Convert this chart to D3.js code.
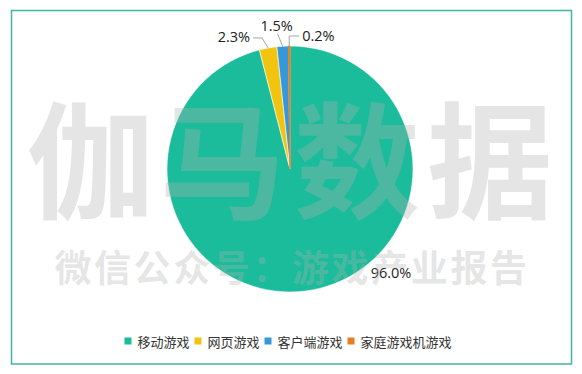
<!DOCTYPE html>
<html>
<head>
<meta charset="utf-8">
<script src="https://cdn.jsdelivr.net/npm/d3@7"></script>
<style>
	html, body { margin: 0; padding: 0; background: #fff; }
	svg { display: block; }
</style>
</head>
<body>
<svg id="chart" width="582" height="374"></svg>
<script>
// data
var categorias = ["移动游戏", "网页游戏", "客户端游戏", "家庭游戏机游戏"];
var porcentajes = [96.0, 2.3, 1.5, 0.2];
var colores = ["#1bbc9b", "#f1c40f", "#3498db", "#e67e22"];

var marca1 = ["伽", "马", "数", "据"];
var marca2 = "微信公众号：游戏产业报告";

(function () {
	var svg = d3.select("#chart");
	var cx = 290, cy = 169, r = 123;

	// marco
	svg.append("rect")
		.attr("x", 11.5).attr("y", 10.5)
		.attr("width", 560).attr("height", 353.5)
		.attr("fill", "#fff")
		.attr("stroke", "#3fb5a3")
		.attr("stroke-width", 1.5);

	var datos = categorias.map(function (c, i) {
		return { nombre: c, valor: porcentajes[i], color: colores[i] };
	});

	var pie = d3.pie().value(d => d.valor).sort(null);
	var arcos = pie(datos);
	var arc = d3.arc().innerRadius(0).outerRadius(r);

	var g = svg.append("g").attr("transform", "translate(" + cx + "," + cy + ")");

	// los sectores muy finos llevan borde de su color para que se vean
	g.selectAll("path.slice").data(arcos).enter().append("path")
		.attr("class", "slice")
		.attr("d", arc)
		.attr("fill", d => d.data.color)
		.attr("stroke", d => d.data.valor < 1 ? d.data.color : "#fff")
		.attr("stroke-width", d => d.data.valor < 1 ? 1 : 0.6);

	// marca de agua encima del pie
	var wm = svg.append("g").attr("fill", "#b0b0b0").attr("fill-opacity", 0.33)
		.style("font-family", "'Noto Sans CJK SC', sans-serif");
	var centros = [90, 222, 357, 490];
	wm.selectAll("text.m1").data(marca1).enter().append("text")
		.attr("class", "m1")
		.attr("x", (d, i) => centros[i])
		.attr("y", 154)
		.attr("text-anchor", "middle")
		.attr("dominant-baseline", "central")
		.style("font-size", "126px")
		.style("font-weight", 700)
		.text(d => d);
	wm.append("text")
		.attr("x", 292).attr("y", 266)
		.attr("text-anchor", "middle")
		.attr("dominant-baseline", "central")
		.style("font-size", "37px")
		.style("font-weight", 700)
		.style("letter-spacing", "2.6px")
		.text(marca2);

	// etiquetas: desplazamientos respecto al borde del sector (mitad del angulo)
	var ajustes = [
		{ lx: 101, ly: 103, anchor: "middle", guia: null },
		{ lx: -18, ly: -11, anchor: "end", guia: [[-6, -10], [-15, -10]] },
		{ lx: -6, ly: -21, anchor: "middle", guia: [[-5, -12]] },
		{ lx: 13, ly: -11, anchor: "start", guia: [[0, -10], [10, -10]] }
	];

	function borde(d) {
		var a = (d.startAngle + d.endAngle) / 2;
		return [r * Math.sin(a), -r * Math.cos(a)];
	}

	var etiquetas = g.append("g")
		.style("font-family", "'Open Sans', sans-serif")
		.style("font-size", "14.5px")
		.attr("fill", "#222");

	arcos.forEach(function (d, i) {
		var aj = ajustes[i];
		var p0 = borde(d);
		if (i == 0) p0 = [0, 0];
		if (aj.guia) {
			var pts = [p0].concat(aj.guia.map(q => [p0[0] + q[0], p0[1] + q[1]]));
			g.append("path")
				.attr("d", d3.line()(pts))
				.attr("fill", "none")
				.attr("stroke", "#a6a6a6")
				.attr("stroke-width", 1);
		}
		etiquetas.append("text")
			.attr("x", p0[0] + aj.lx)
			.attr("y", p0[1] + aj.ly)
			.attr("text-anchor", aj.anchor)
			.attr("dominant-baseline", "central")
			.text(d.data.valor.toFixed(1) + "%");
	});

	// leyenda
	var ley = svg.append("g")
		.style("font-family", "'Noto Sans CJK SC', sans-serif")
		.style("font-size", "13px")
		.attr("fill", "#333");
	var x = 0, items = [];
	datos.forEach(function (d) {
		var it = ley.append("g");
		it.append("rect").attr("x", 0).attr("y", -3.5).attr("width", 7).attr("height", 7).attr("fill", d.color);
		var t = it.append("text").attr("x", 13).attr("y", 0).attr("dominant-baseline", "central").text(d.nombre);
		var w = 13 + t.node().getComputedTextLength();
		items.push({ g: it, x: x });
		x += w + 5;
	});
	var total = x - 5;
	var inicio = 288 - total / 2;
	items.forEach(function (it) {
		it.g.attr("transform", "translate(" + (inicio + it.x) + ",341)");
	});
})();
</script>
</body>
</html>
